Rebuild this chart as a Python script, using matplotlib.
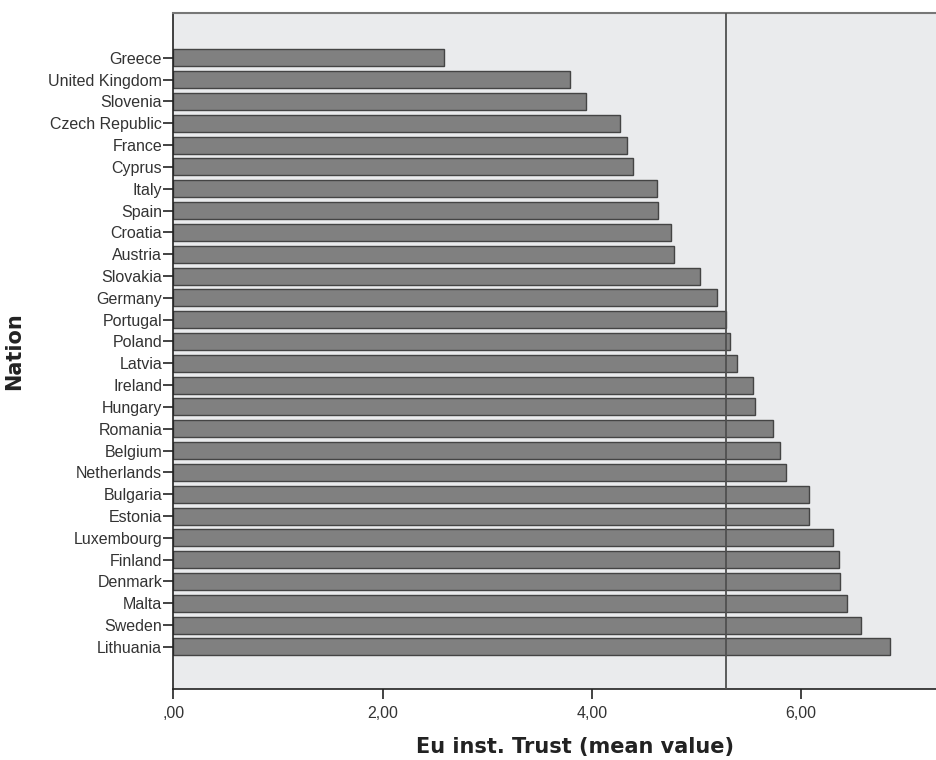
import matplotlib
matplotlib.use("Agg")
import matplotlib.pyplot as plt
from matplotlib.ticker import FuncFormatter

# Mean EU institution trust per nation
nations = ["Greece", "United Kingdom", "Slovenia", "Czech Republic", "France",
           "Cyprus", "Italy", "Spain", "Croatia", "Austria", "Slovakia",
           "Germany", "Portugal", "Poland", "Latvia", "Ireland", "Hungary",
           "Romania", "Belgium", "Netherlands", "Bulgaria", "Estonia",
           "Luxembourg", "Finland", "Denmark", "Malta", "Sweden", "Lithuania"]
trust = [2.59, 3.79, 3.94, 4.27, 4.34, 4.39, 4.62, 4.63, 4.76, 4.79, 5.03,
         5.20, 5.28, 5.32, 5.39, 5.54, 5.56, 5.73, 5.80, 5.86, 6.08, 6.08,
         6.31, 6.36, 6.37, 6.44, 6.57, 6.85]
ref_line = 5.28
x_ticks = [0, 2, 4, 6]


def comma_fmt(v, p):
    s = ("%.2f" % v).replace(".", ",")
    # SPSS style: zero shown as ",00"
    return s[1:] if s.startswith("0,") else s


fig = plt.figure(figsize=(9.37, 7.6), dpi=100)
ax = fig.add_axes([0.185, 0.0934, 0.815, 0.8896])
ax.set_facecolor("#eaebed")

pos = list(range(len(nations)))
ax.barh(pos, trust, height=0.78, color="#808080", edgecolor="#444444",
        linewidth=1.0, zorder=2)
ax.axvline(ref_line, color="#505050", linewidth=1.3, zorder=3)

ax.set_ylim(len(nations) - 1 + 1.93, -2.06)
ax.set_xlim(0, 7.30)
ax.set_yticks(pos)
ax.set_yticklabels(nations, fontfamily="Liberation Sans", fontsize=11.5, color="#333333")
ax.set_xticks(x_ticks)
ax.xaxis.set_major_formatter(FuncFormatter(comma_fmt))
for lab in ax.get_xticklabels():
    lab.set_fontfamily("Liberation Sans")
    lab.set_fontsize(11.5)
    lab.set_color("#333333")
ax.tick_params(axis="both", direction="out", length=7, width=1.2, color="#222222")
ax.tick_params(axis="y", pad=1)
ax.tick_params(axis="x", pad=5)

for side in ["left", "bottom"]:
    ax.spines[side].set_color("#222222")
    ax.spines[side].set_linewidth(1.2)
ax.spines["top"].set_color("#777777")
ax.spines["top"].set_linewidth(1.5)
ax.spines["right"].set_visible(False)

ax.set_xlabel("Eu inst. Trust (mean value)", fontsize=15, fontweight="bold",
              fontfamily="DejaVu Sans", color="#222222")
# the original plot frame runs past the right edge, so its label sits right of centre
ax.xaxis.set_label_coords(0.526, -0.071)
ax.set_ylabel("Nation", fontsize=15, fontweight="bold",
              fontfamily="DejaVu Sans", color="#222222")
ax.yaxis.set_label_coords(-0.195, 0.5)

fig.savefig("out.png", dpi=100, facecolor="white")
